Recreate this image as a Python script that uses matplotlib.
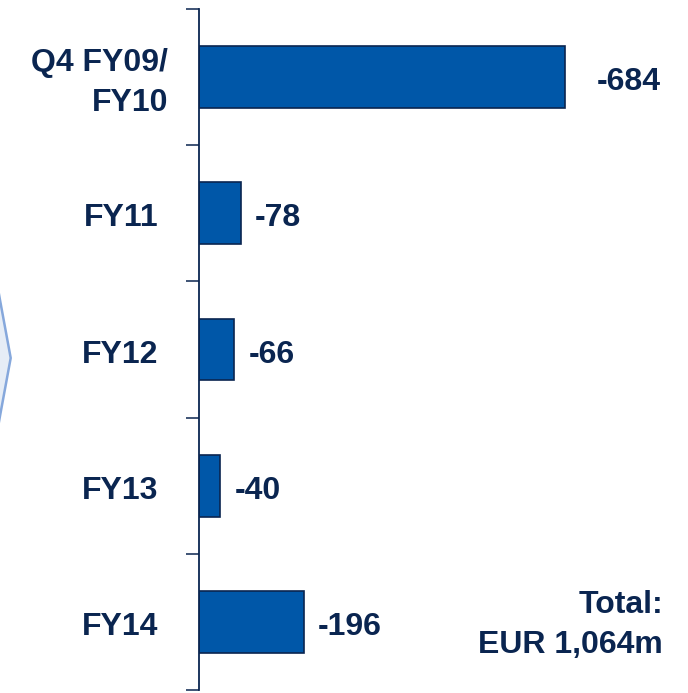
import matplotlib.pyplot as plt
from matplotlib.patches import Polygon

# data
categories = ['Q4 FY09/\nFY10', 'FY11', 'FY12', 'FY13', 'FY14']
values = [-684, -78, -66, -40, -196]
total_label = 'Total:\nEUR 1,064m'

navy = '#0a2550'
bar_blue = '#0057a8'

plt.rcParams['font.family'] = ['Liberation Sans', 'DejaVu Sans']

W, H = 688, 693
fig = plt.figure(figsize=(W / 100, H / 100), dpi=100)

# light chevron on the left edge (cut by the figure border)
chev = Polygon([(-60 / W, 1 - (-40) / H), (0, 1 - 300 / H), (10.7 / W, 1 - 358 / H),
                (0, 1 - 416 / H), (-60 / W, 1 - 756 / H)],
               closed=True, transform=fig.transFigure, facecolor='#e6edf6',
               edgecolor='#86a8dc', lw=1.8, clip_on=False)
fig.patches.append(chev)

ax = fig.add_axes([199 / W, 3 / H, (W - 199) / W, 681 / H])

y = list(range(len(categories)))
ax.barh(y, values, height=0.455, color=bar_blue, edgecolor=navy, linewidth=1.2)

ax.set_xlim(0, -914)
ax.set_ylim(len(categories) - 0.5, -0.5)

for sp in ['top', 'right', 'bottom']:
    ax.spines[sp].set_visible(False)
ax.spines['left'].set_color(navy)
ax.spines['left'].set_linewidth(1.3)

ax.set_xticks([])
ax.set_yticks([i - 0.5 for i in range(len(categories) + 1)])
ax.set_yticklabels([])
ax.tick_params(axis='y', length=9.5, width=1.1, color=navy, direction='out')

for i, (cat, v) in enumerate(zip(categories, values)):
    dx = -31 if i == 0 else -41
    dy = -6 if i == 0 else -5
    ax.annotate(cat, xy=(0, i), xytext=(dx, dy), textcoords='offset pixels',
                ha='right', va='center', fontsize=23, fontweight='bold',
                color=navy, multialignment='right', linespacing=1.4)
    off = 32 if i == 0 else 14
    ax.annotate(str(v), xy=(v, i), xytext=(off, -5), textcoords='offset pixels',
                ha='left', va='center', fontsize=23, fontweight='bold', color=navy)

fig.text(663 / W, 1 - 625 / H, total_label, ha='right', va='center',
         multialignment='right', fontsize=23, fontweight='bold', color=navy,
         linespacing=1.4)

fig.savefig('out.png', dpi=100)
